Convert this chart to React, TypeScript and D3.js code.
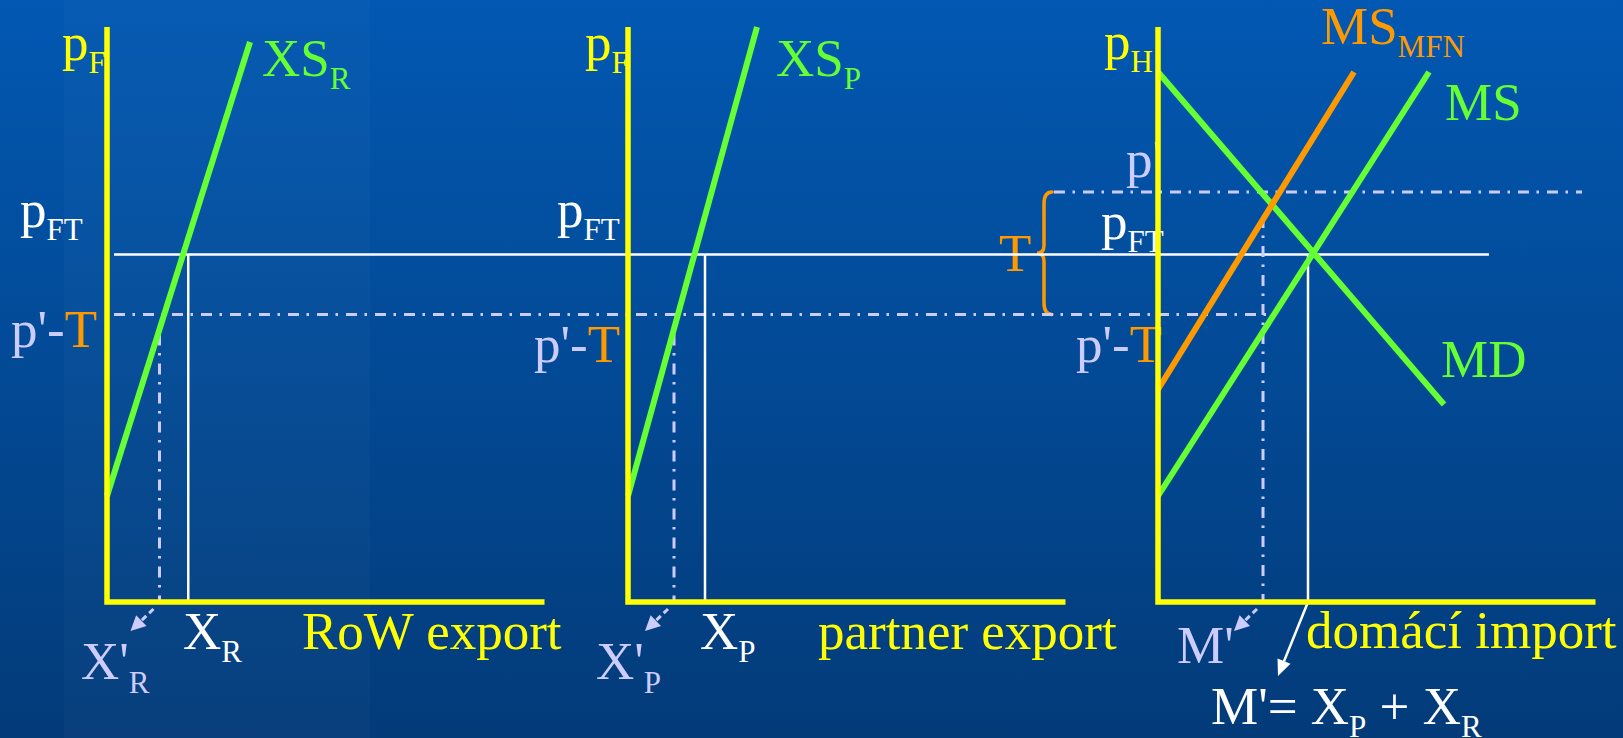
import { useEffect } from "react";
import * as d3 from "d3";

const W = 1623;
const H = 738;

// vertical (price) levels
const priceTop = 23;
const pFT = 13.9;
const pPrime = 16.4;
const pPrimeMinusT = 11.5;

// each panel's origin along the slide, and length of its quantity axis
const panelOrigins = [4.28, 25.12, 46.32];
const axisLength = 17.5;

// curves: panel index and two points [quantity, price]
const curveNames = ["XS_R", "XS_P", "MD", "MS_MFN", "MS"];
const curvePanels = [0, 1, 2, 2, 2];
const curvePoints: [number, number][][] = [
  [[0, 4.24], [5.72, 22.4]],
  [[0, 4.24], [5.16, 23]],
  [[0, 21.2], [11.44, 7.9]],
  [[0, 8.5], [7.84, 21.2]],
  [[0, 4.24], [10.84, 21.2]],
];

// quantities
const qFree = [3.25, 3.08, 6.0]; // X_R, X_P, M
const qPrime = [2.1, 1.84, 4.2]; // X'_R, X'_P, M'
const qPrimeTop = [10.7, 10.7, 15.4];

// horizontal guides in slide units: [from, to, price]
const hGuides: [number, number, number][] = [
  [4.56, 59.56, pFT],
  [4.56, 50.8, pPrimeMinusT],
  [42.16, 63.28, pPrime],
];
const hGuideKinds = ["solid", "dashdot", "dashdot"];

const YELLOW = "#ffff00";
const GREEN = "#66ff33";
const ORANGE = "#ff9900";
const WHITE = "#ffffff";
const LAV = "#ccccff";
const curveColors: Record<string, string> = {
  XS_R: GREEN, XS_P: GREEN, MD: GREEN, MS_MFN: ORANGE, MS: GREEN,
};
const DASHDOT = "11,7.5,2.5,8";
const FONT = "'Liberation Serif', 'Times New Roman', serif";

const xs = d3.scaleLinear().domain([0, 64.92]).range([0, W]);
const ys = d3.scaleLinear().domain([0, priceTop]).range([602, 27]);
const xq = (panel: number, q: number) => xs(panelOrigins[panel] + q);

type Part = { t: string; sub?: boolean; color?: string };

function Label({ x, y, color, parts, shift = 13 }: { x: number; y: number; color: string; parts: Part[]; shift?: number }) {
  let prevSub = false;
  return (
    <text x={x} y={y} fill={color} fontFamily={FONT} fontSize={53} style={{ whiteSpace: "pre" }}>
      {parts.map((p, i) => {
        const dy = p.sub && !prevSub ? shift : !p.sub && prevSub ? -shift : 0;
        prevSub = !!p.sub;
        return (
          <tspan key={i} dy={dy} fontSize={p.sub ? 31 : 53} fill={p.color || color}>
            {p.t}
          </tspan>
        );
      })}
    </text>
  );
}

function arrowHead(from: [number, number], to: [number, number], len: number, half: number) {
  const dx = to[0] - from[0];
  const dy = to[1] - from[1];
  const d = Math.hypot(dx, dy);
  const ux = dx / d, uy = dy / d;
  const bx = to[0] - ux * len, by = to[1] - uy * len;
  return {
    pts: `${to[0]},${to[1]} ${bx - uy * half},${by + ux * half} ${bx + uy * half},${by - ux * half}`,
    base: [bx, by] as [number, number],
  };
}

function bracePath(x: number, y0: number, y1: number) {
  const ym = (y0 + y1) / 2;
  const p = d3.path();
  p.moveTo(x + 8, y0);
  p.quadraticCurveTo(x, y0, x, y0 + 12);
  p.lineTo(x, ym - 8);
  p.quadraticCurveTo(x, ym, x - 7, ym);
  p.quadraticCurveTo(x, ym, x, ym + 8);
  p.lineTo(x, y1 - 12);
  p.quadraticCurveTo(x, y1, x + 8, y1);
  return p.toString();
}

export default function App() {
  useEffect(() => {
    document.body.style.margin = "0";
  }, []);

  const line = d3.line<[number, number]>().x((d) => d[0]).y((d) => d[1]);
  const y0 = ys(0);

  return (
    <svg width={W} height={H} style={{ position: "fixed", left: 0, top: 0, display: "block" }}>
      <defs>
        <linearGradient id="bg" x1="0" y1="0" x2="0" y2="1">
          <stop offset="0" stopColor="#0258b2" />
          <stop offset="1" stopColor="#033b79" />
        </linearGradient>
      </defs>
      <rect width={W} height={H} fill="url(#bg)" />
      <rect x={64} width={306} height={H} fill="#ffffff" opacity={0.025} />

      {/* labels */}
      <Label x={62} y={60} color={YELLOW} parts={[{ t: "p" }, { t: "F", sub: true }]} />
      <Label x={262} y={76} color={GREEN} parts={[{ t: "XS" }, { t: "R", sub: true }]} />
      <Label x={20} y={227} color={WHITE} parts={[{ t: "p" }, { t: "FT", sub: true }]} />
      <Label x={11} y={347} color={LAV} parts={[{ t: "p'-" }, { t: "T", color: ORANGE }]} />
      <Label x={81} y={679} color={LAV} shift={14} parts={[{ t: "X'" }, { t: "R", sub: true }]} />
      <Label x={183} y={649} color={WHITE} parts={[{ t: "X" }, { t: "R", sub: true }]} />
      <Label x={302} y={649} color={YELLOW} parts={[{ t: "RoW export" }]} />

      <Label x={585} y={60} color={YELLOW} parts={[{ t: "p" }, { t: "F", sub: true }]} />
      <Label x={776} y={76} color={GREEN} parts={[{ t: "XS" }, { t: "P", sub: true }]} />
      <Label x={557} y={227} color={WHITE} parts={[{ t: "p" }, { t: "FT", sub: true }]} />
      <Label x={534} y={362} color={LAV} parts={[{ t: "p'-" }, { t: "T", color: ORANGE }]} />
      <Label x={596} y={679} color={LAV} shift={14} parts={[{ t: "X'" }, { t: "P", sub: true }]} />
      <Label x={700} y={649} color={WHITE} parts={[{ t: "X" }, { t: "P", sub: true }]} />
      <Label x={818} y={649} color={YELLOW} parts={[{ t: "partner export" }]} />
      <Label x={999} y={271} color={ORANGE} parts={[{ t: "T" }]} />

      <Label x={1104} y={59} color={YELLOW} parts={[{ t: "p" }, { t: "H", sub: true }]} />
      <Label x={1321} y={44} color={ORANGE} parts={[{ t: "MS" }, { t: "MFN", sub: true }]} />
      <Label x={1445} y={120} color={GREEN} parts={[{ t: "MS" }]} />
      <Label x={1126} y={177} color={LAV} parts={[{ t: "p'" }]} />
      <Label x={1101} y={239} color={WHITE} parts={[{ t: "p" }, { t: "FT", sub: true }]} />
      <Label x={1076} y={362} color={LAV} parts={[{ t: "p'-" }, { t: "T", color: ORANGE }]} />
      <Label x={1441} y={377} color={GREEN} parts={[{ t: "MD" }]} />
      <Label x={1177} y={663} color={LAV} parts={[{ t: "M'" }]} />
      <Label x={1306} y={648} color={YELLOW} parts={[{ t: "domácí import" }]} />
      <Label
        x={1211}
        y={724}
        color={WHITE}
        parts={[{ t: "M'= X" }, { t: "P", sub: true }, { t: " + X" }, { t: "R", sub: true }]}
      />

      {/* brace for T */}
      <path d={bracePath(1044, ys(pPrime), ys(pPrimeMinusT))} fill="none" stroke={ORANGE} strokeWidth={3.5} strokeLinecap="round" />

      {/* horizontal guides */}
      {hGuides.map(([a, b, p], i) => (
        <line
          key={"h" + i}
          x1={xs(a)}
          x2={xs(b)}
          y1={ys(p)}
          y2={ys(p)}
          stroke={hGuideKinds[i] === "solid" ? WHITE : LAV}
          strokeWidth={hGuideKinds[i] === "solid" ? 2.5 : 3}
          strokeDasharray={hGuideKinds[i] === "solid" ? undefined : DASHDOT}
        />
      ))}

      {/* vertical guides */}
      {qFree.map((q, i) => (
        <line key={"vf" + i} x1={xq(i, q)} x2={xq(i, q)} y1={ys(pFT)} y2={y0} stroke={WHITE} strokeWidth={2.5} />
      ))}
      {qPrime.map((q, i) => (
        <line
          key={"vp" + i}
          x1={xq(i, q)}
          x2={xq(i, q)}
          y1={ys(qPrimeTop[i])}
          y2={y0}
          stroke={LAV}
          strokeWidth={3}
          strokeDasharray={DASHDOT}
        />
      ))}

      {/* dashed arrows to X'_R, X'_P, M' */}
      {qPrime.map((q, i) => {
        const tail: [number, number] = [xq(i, q) - 6, y0 + 7];
        const tip: [number, number] = [tail[0] - 23, tail[1] + 22];
        const h = arrowHead(tail, tip, 15, 7.5);
        return (
          <g key={"da" + i}>
            <line x1={tail[0]} y1={tail[1]} x2={h.base[0]} y2={h.base[1]} stroke={LAV} strokeWidth={3} strokeDasharray="6,4" />
            <polygon points={h.pts} fill={LAV} />
          </g>
        );
      })}

      {/* arrow from M down to the sum */}
      {(() => {
        const tail: [number, number] = [xq(2, qFree[2]), y0];
        const tip: [number, number] = [tail[0] - 30, y0 + 74];
        const h = arrowHead(tail, tip, 16, 7);
        return (
          <g>
            <line x1={tail[0]} y1={tail[1]} x2={h.base[0]} y2={h.base[1]} stroke={WHITE} strokeWidth={2.5} />
            <polygon points={h.pts} fill={WHITE} />
          </g>
        );
      })()}

      {/* curves */}
      {curveNames.map((n, i) => (
        <path
          key={n}
          d={line(curvePoints[i].map(([q, p]) => [xq(curvePanels[i], q), ys(p)] as [number, number])) || ""}
          fill="none"
          stroke={curveColors[n]}
          strokeWidth={6}
        />
      ))}

      {/* axes */}
      {panelOrigins.map((_, i) => (
        <path
          key={"ax" + i}
          d={line([
            [xq(i, 0), ys(priceTop)],
            [xq(i, 0), y0],
            [xq(i, axisLength), y0],
          ]) || ""}
          fill="none"
          stroke={YELLOW}
          strokeWidth={5.5}
          strokeLinejoin="miter"
        />
      ))}
    </svg>
  );
}
